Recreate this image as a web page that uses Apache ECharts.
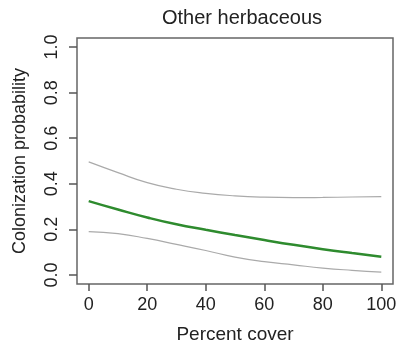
<!DOCTYPE html>
<html>
<head>
<meta charset="utf-8">
<script src="https://cdn.jsdelivr.net/npm/echarts@6/dist/echarts.min.js"></script>
<style>
  html, body { margin: 0; padding: 0; background: #fff; }
  #content { width: 396px; height: 349px; }
</style>
</head>
<body>
<div id="content"></div>
<script>
var cover = [0, 10, 20, 30, 40, 50, 60, 70, 80, 90, 100];
var fitProb = [0.324, 0.287, 0.252, 0.222, 0.198, 0.175, 0.153, 0.132, 0.113, 0.096, 0.080];
var lowerProb = [0.190, 0.181, 0.160, 0.134, 0.107, 0.078, 0.058, 0.044, 0.030, 0.020, 0.012];
var upperProb = [0.496, 0.449, 0.405, 0.376, 0.358, 0.347, 0.341, 0.339, 0.340, 0.342, 0.344];
var xTicks = [0, 20, 40, 60, 80, 100];
var yTicks = [0, 0.2, 0.4, 0.6, 0.8, 1.0];

function pairs(ys) {
    return cover.map(function (x, i) { return [x, ys[i]]; });
}

var font = 'Liberation Sans, Arial, sans-serif';
var ink = '#222';

var myChart = echarts.init(document.getElementById('content'));
myChart.setOption({
    animation: false,
    title: {
        text: 'Other herbaceous',
        left: 237,
        top: 3,
        textAlign: 'center',
        textStyle: {fontSize: 20, fontWeight: 'normal', color: ink, fontFamily: font}
    },
    grid: {
        left: 77, right: 3, top: 38, bottom: 65,
        outerBoundsMode: 'none',
        containLabel: false,
        show: true,
        borderColor: '#666',
        borderWidth: 1.5
    },
    xAxis: {
        type: 'value',
        min: -4,
        max: 104,
        name: 'Percent cover',
        nameLocation: 'middle',
        nameGap: 41,
        nameTextStyle: {fontSize: 19, color: ink, fontFamily: font},
        axisLine: {show: false, onZero: false},
        splitLine: {show: false},
        axisTick: {show: true, length: 7, customValues: xTicks, lineStyle: {color: '#555', width: 1.5}},
        axisLabel: {
            customValues: xTicks,
            margin: 12,
            fontSize: 18,
            color: ink,
            fontFamily: font
        }
    },
    yAxis: {
        type: 'value',
        min: -0.04,
        max: 1.04,
        name: 'Colonization probability',
        nameLocation: 'middle',
        nameGap: 48,
        nameTextStyle: {fontSize: 18, color: ink, fontFamily: font},
        axisLine: {show: false, onZero: false},
        splitLine: {show: false},
        axisTick: {show: true, length: 8, customValues: yTicks, lineStyle: {color: '#555', width: 1.5}},
        axisLabel: {
            customValues: yTicks,
            rotate: 90,
            margin: 16,
            fontSize: 18,
            color: ink,
            fontFamily: font,
            formatter: function (v) { return v.toFixed(1); }
        }
    },
    series: [
        {
            name: 'upper',
            type: 'line',
            smooth: true,
            showSymbol: false,
            lineStyle: {color: '#aaaaaa', width: 1.2},
            data: pairs(upperProb)
        },
        {
            name: 'lower',
            type: 'line',
            smooth: true,
            showSymbol: false,
            lineStyle: {color: '#aaaaaa', width: 1.2},
            data: pairs(lowerProb)
        },
        {
            name: 'fit',
            type: 'line',
            smooth: true,
            showSymbol: false,
            lineStyle: {color: '#2e8b2e', width: 2.5},
            data: pairs(fitProb)
        }
    ]
});
</script>
</body>
</html>
